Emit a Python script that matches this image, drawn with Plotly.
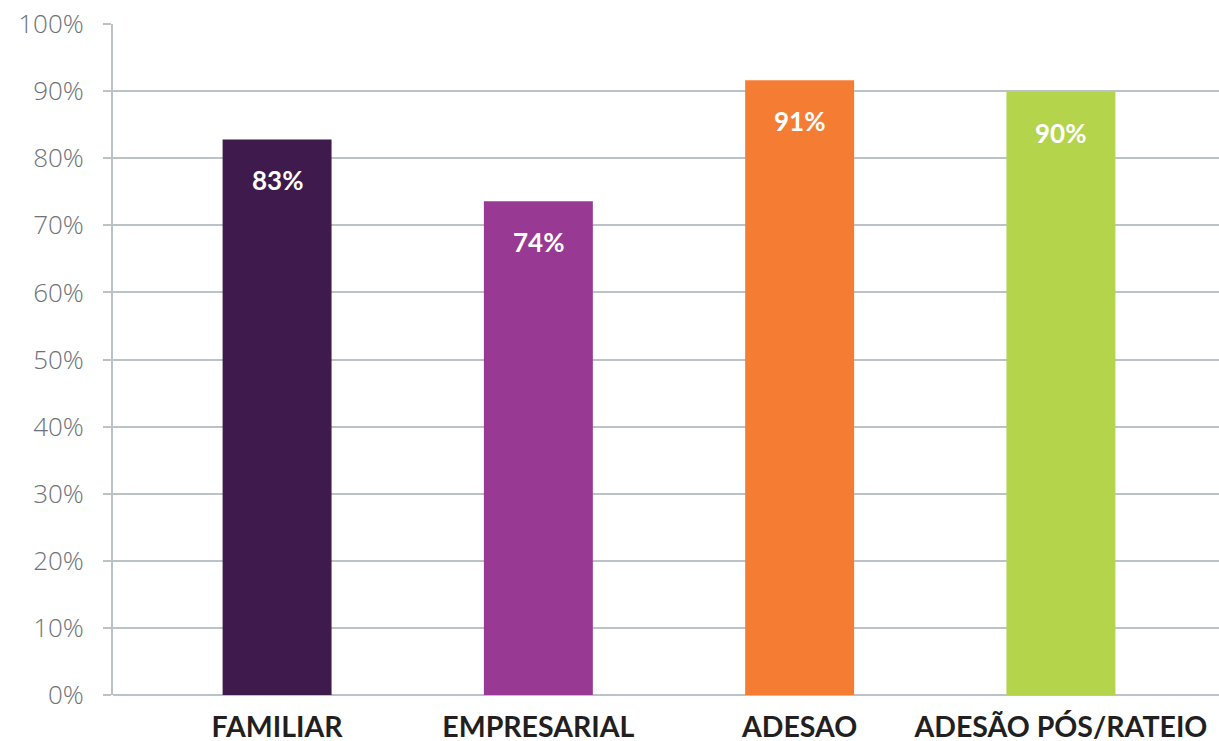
import plotly.graph_objects as go

categories = ["FAMILIAR", "EMPRESARIAL", "ADESAO", "ADESÃO PÓS/RATEIO"]
values = [82.8, 73.6, 91.6, 89.9]
labels = ["83%", "74%", "91%", "90%"]
colors = ["#3f1a4d", "#983a94", "#f57c33", "#b3d44b"]
y_ticks = [0, 10, 20, 30, 40, 50, 60, 70, 80, 90, 100]
y_ticktext = [f"{v}%" for v in y_ticks]

grid = "#bcc3c7"

fig = go.Figure()
fig.add_trace(go.Bar(
    x=list(range(len(categories))), y=values,
    marker=dict(color=colors, line=dict(width=0)),
    width=0.417, hoverinfo="skip",
))

for i, (v, t) in enumerate(zip(values, labels)):
    fig.add_annotation(x=i, y=v, text=t, showarrow=False, yanchor="middle",
                       yshift=-41, font=dict(family="Lato", size=26, color="white", weight="bold"))

fig.update_layout(
    width=1219, height=741,
    margin=dict(l=113, r=0, t=24, b=46, autoexpand=False),
    paper_bgcolor="white", plot_bgcolor="white",
    showlegend=False,
    xaxis=dict(
        range=[-0.628, 3.605], automargin=False,
        tickmode="array", tickvals=list(range(len(categories))), ticktext=categories,
        showgrid=False, zeroline=False, showline=False, ticks="",
        tickfont=dict(family="Lato", size=28.5, color="#231f20", weight="bold"),
        ticklabelstandoff=12,
    ),
    yaxis=dict(
        range=[0, 100], automargin=False,
        tickmode="array", tickvals=y_ticks, ticktext=y_ticktext,
        showgrid=True, gridcolor=grid, gridwidth=2,
        zeroline=True, zerolinecolor=grid, zerolinewidth=2,
        showline=True, linecolor=grid, linewidth=2,
        ticks="outside", ticklen=8, tickcolor=grid, tickwidth=2,
        tickfont=dict(family="Open Sans", size=26, color="#6f7378", weight=300),
        ticklabelstandoff=14,
    ),
)

fig.write_html(
    "out.html",
    config={"displayModeBar": False},
    post_script="document.body.style.margin='0';document.body.style.overflow='hidden';",
)
